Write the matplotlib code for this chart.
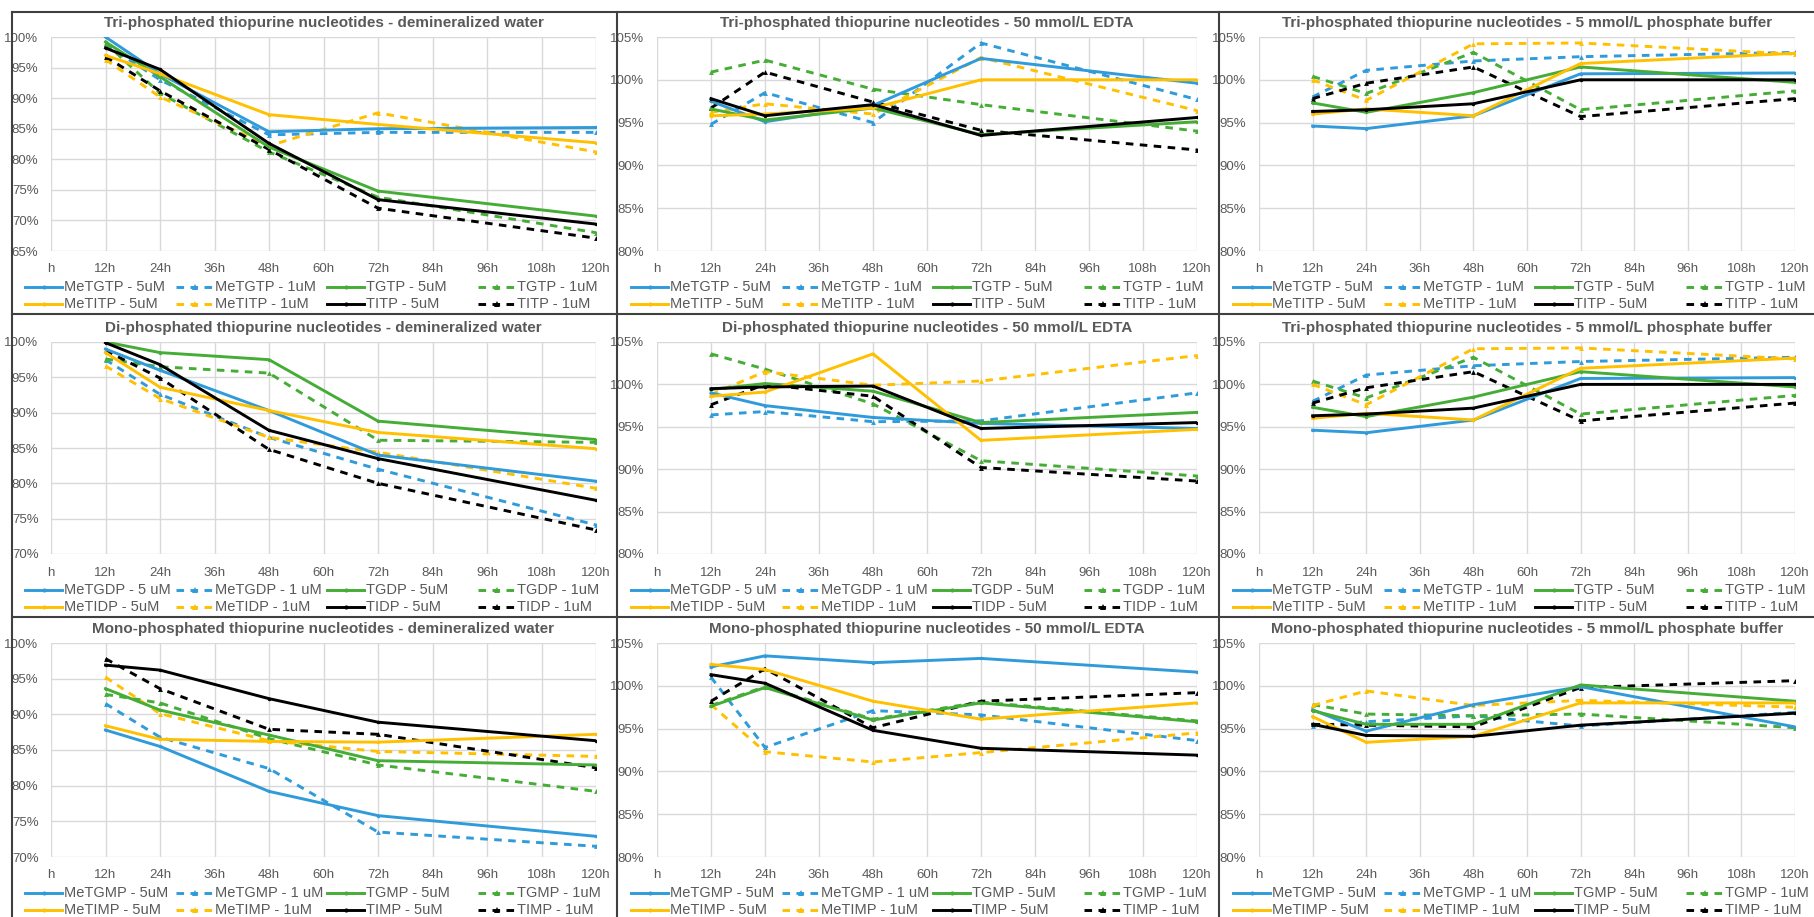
import matplotlib.pyplot as plt
from matplotlib.lines import Line2D

W, H = 1814, 917
plt.rcParams['font.family'] = ['Liberation Sans Narrow', 'Liberation Sans', 'DejaVu Sans']

hours = [12, 24, 48, 72, 120]
tick_pos = list(range(0, 121, 12))
tick_labels = ['h'] + [f'{h}h' for h in tick_pos[1:]]

# order of series: MeTG 5uM, MeTG 1uM, TG 5uM, TG 1uM, MeTI 5uM, MeTI 1uM, TI 5uM, TI 1uM
tri_water = [
    [100.0, 94.0, 84.5, 85.0, 85.2],
    [98.8, 93.0, 84.0, 84.4, 84.4],
    [99.2, 93.5, 82.0, 74.8, 70.7],
    [99.0, 90.8, 81.2, 73.8, 68.0],
    [97.0, 94.0, 87.3, 85.7, 82.7],
    [96.3, 90.2, 82.2, 87.6, 81.2],
    [98.2, 94.7, 82.6, 73.4, 69.4],
    [96.8, 91.2, 81.6, 72.0, 67.1],
]
tri_edta = [
    [97.5, 95.1, 97.0, 102.5, 99.6],
    [94.8, 98.5, 95.0, 104.3, 97.7],
    [96.6, 95.3, 96.7, 93.6, 95.1],
    [100.9, 102.3, 98.9, 97.1, 94.0],
    [95.8, 96.0, 96.7, 100.0, 100.0],
    [96.2, 97.2, 96.0, 102.6, 96.4],
    [97.8, 95.8, 97.1, 93.5, 95.6],
    [96.7, 100.9, 97.4, 94.1, 91.8],
]
tri_phos = [
    [94.6, 94.3, 95.8, 100.7, 100.8],
    [98.0, 101.1, 102.2, 102.7, 103.2],
    [97.3, 96.2, 98.5, 101.5, 99.7],
    [100.4, 98.4, 103.2, 96.5, 98.7],
    [96.0, 96.6, 95.8, 101.9, 103.1],
    [100.0, 97.6, 104.2, 104.3, 103.0],
    [96.3, 96.5, 97.2, 100.0, 100.0],
    [97.8, 99.6, 101.5, 95.7, 97.8],
]
di_water = [
    [99.0, 96.0, 90.3, 84.0, 80.3],
    [97.5, 92.6, 86.5, 82.0, 74.1],
    [100.0, 98.5, 97.5, 88.8, 86.2],
    [97.6, 96.5, 95.6, 86.1, 85.8],
    [98.5, 93.6, 90.3, 87.2, 84.9],
    [96.6, 92.0, 86.5, 84.4, 79.3],
    [99.9, 96.8, 87.5, 83.5, 77.6],
    [98.8, 94.9, 84.8, 80.0, 73.4],
]
di_edta = [
    [99.0, 97.5, 96.1, 95.4, 94.8],
    [96.4, 96.8, 95.6, 95.7, 99.0],
    [99.4, 100.1, 99.2, 95.5, 96.7],
    [103.6, 101.8, 97.7, 91.0, 89.2],
    [98.6, 99.1, 103.6, 93.4, 94.7],
    [98.8, 101.5, 99.9, 100.4, 103.4],
    [99.5, 99.7, 99.8, 94.8, 95.5],
    [97.6, 100.0, 98.6, 90.2, 88.6],
]
mono_water = [
    [87.8, 85.5, 79.2, 75.8, 72.9],
    [91.5, 86.8, 82.4, 73.5, 71.5],
    [93.6, 90.6, 87.1, 83.5, 82.9],
    [92.8, 91.6, 86.6, 82.9, 79.2],
    [88.4, 86.5, 86.2, 86.1, 87.2],
    [95.2, 90.1, 86.3, 84.8, 84.1],
    [96.9, 96.2, 92.2, 88.9, 86.3],
    [97.8, 93.6, 87.9, 87.2, 82.5],
]
mono_edta = [
    [102.2, 103.5, 102.7, 103.2, 101.6],
    [101.0, 92.8, 97.1, 96.6, 93.6],
    [97.6, 99.8, 96.0, 98.0, 95.8],
    [97.7, 99.9, 96.1, 98.1, 95.9],
    [102.5, 101.9, 98.2, 96.1, 98.0],
    [97.8, 92.3, 91.1, 92.2, 94.5],
    [101.3, 100.3, 94.8, 92.7, 91.9],
    [98.2, 102.0, 95.1, 98.2, 99.2],
]
mono_phos = [
    [97.2, 94.7, 97.8, 99.9, 95.2],
    [95.3, 95.8, 96.5, 95.3, 96.9],
    [97.1, 95.5, 95.5, 100.1, 98.2],
    [97.8, 96.7, 96.5, 96.7, 95.1],
    [96.4, 93.4, 94.1, 98.0, 98.0],
    [97.7, 99.4, 97.7, 98.3, 97.5],
    [95.5, 94.2, 94.1, 95.4, 96.8],
    [95.5, 95.4, 95.2, 99.8, 100.6],
]

labels_tp = ['MeTGTP - 5uM', 'MeTGTP - 1uM', 'TGTP - 5uM', 'TGTP - 1uM',
             'MeTITP - 5uM', 'MeTITP - 1uM', 'TITP - 5uM', 'TITP - 1uM']
labels_dp = ['MeTGDP - 5 uM', 'MeTGDP - 1 uM', 'TGDP - 5uM', 'TGDP - 1uM',
             'MeTIDP - 5uM', 'MeTIDP - 1uM', 'TIDP - 5uM', 'TIDP - 1uM']
labels_mp = ['MeTGMP - 5uM', 'MeTGMP - 1 uM', 'TGMP - 5uM', 'TGMP - 1uM',
             'MeTIMP - 5uM', 'MeTIMP - 1uM', 'TIMP - 5uM', 'TIMP - 1uM']

titles = [
    'Tri-phosphated thiopurine nucleotides - demineralized water',
    'Tri-phosphated thiopurine nucleotides - 50 mmol/L EDTA',
    'Tri-phosphated thiopurine nucleotides - 5 mmol/L phosphate buffer',
    'Di-phosphated thiopurine nucleotides - demineralized water',
    'Di-phosphated thiopurine nucleotides - 50 mmol/L EDTA',
    'Tri-phosphated thiopurine nucleotides - 5 mmol/L phosphate buffer',
    'Mono-phosphated thiopurine nucleotides - demineralized water',
    'Mono-phosphated thiopurine nucleotides - 50 mmol/L EDTA',
    'Mono-phosphated thiopurine nucleotides - 5 mmol/L phosphate buffer',
]
panels = [tri_water, tri_edta, tri_phos, di_water, di_edta, tri_phos,
          mono_water, mono_edta, mono_phos]
panel_labels = [labels_tp] * 3 + [labels_dp, labels_dp, labels_tp] + [labels_mp] * 3
ylims = [(65, 100), (80, 105), (80, 105), (70, 100), (80, 105), (80, 105),
         (70, 100), (80, 105), (80, 105)]

colors = ['#2F9BDA', '#2F9BDA', '#45AD36', '#45AD36',
          '#FFC000', '#FFC000', '#000000', '#000000']
dashed = [False, True] * 4

col_x = [(51, 596), (657, 1197), (1259, 1795)]
row_y = [(37, 251), (342, 554), (643, 857)]
text_col = '#595959'
grid_col = '#D9D9D9'

fig = plt.figure(figsize=(W / 100, H / 100), dpi=100)
fig.patch.set_facecolor('white')


def style_of(k):
    if dashed[k]:
        return dict(linestyle=(0, (2.6, 2.2)), marker='^', markersize=3.5)
    return dict(linestyle='-', marker='o', markersize=2.5)


for i, data in enumerate(panels):
    r, c = divmod(i, 3)
    l, rr = col_x[c]
    t, b = row_y[r]
    ax = fig.add_axes([l / W, 1 - b / H, (rr - l) / W, (b - t) / H])
    for k, vals in enumerate(data):
        ax.plot(hours, vals, color=colors[k], lw=2.1, **style_of(k),
                markeredgewidth=0, zorder=3 + (k % 2 == 0))
    ax.set_xlim(0, 120)
    lo, hi = ylims[i]
    ax.set_ylim(lo, hi)
    ax.set_xticks(tick_pos)
    ax.set_xticklabels(tick_labels)
    yt = list(range(lo, hi + 1, 5))
    ax.set_yticks(yt)
    ax.set_yticklabels([f'{v}%' for v in yt])
    ax.tick_params(length=0, labelsize=9.5, labelcolor=text_col, pad=9)
    ax.grid(True, color=grid_col, lw=1)
    ax.set_axisbelow(True)
    for s in ax.spines.values():
        s.set_visible(False)
    ax.set_title(titles[i], fontsize=11, fontweight='bold', color=text_col, pad=7)

    # legend, 4 columns x 2 rows under the plot
    for k, lab in enumerate(panel_labels[i]):
        rw, cl = divmod(k, 4)
        x0 = l - 26 + cl * 151
        y0 = b + 36 + rw * 17
        xs = [x0 / W, (x0 + 37) / W]
        ys = [1 - y0 / H] * 2
        fig.add_artist(Line2D(xs, ys, transform=fig.transFigure, color=colors[k], lw=2.1,
                              linestyle=style_of(k)['linestyle']))
        fig.add_artist(Line2D([(x0 + 18.5) / W], [1 - y0 / H], transform=fig.transFigure,
                              color=colors[k], marker=style_of(k)['marker'],
                              markersize=style_of(k)['markersize'] + 0.5, markeredgewidth=0))
        fig.text((x0 + 39) / W, 1 - y0 / H, lab, fontsize=10.5, color=text_col,
                 va='center', ha='left')

# panel dividers
frame_col = '#404040'
for x in (12, 617, 1219):
    fig.add_artist(Line2D([x / W] * 2, [0, 1 - 12 / H], transform=fig.transFigure,
                          color=frame_col, lw=1.5))
for y in (12, 314, 617):
    fig.add_artist(Line2D([12 / W, 1], [1 - y / H] * 2, transform=fig.transFigure,
                          color=frame_col, lw=1.5))

fig.savefig('out.png', dpi=100, facecolor='white')
